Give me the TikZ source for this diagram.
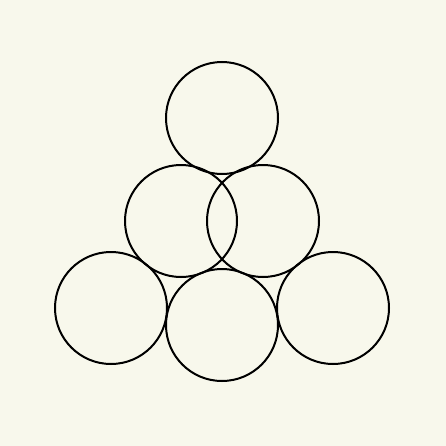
\documentclass[tikz,border=0pt]{standalone}
\usepackage{xcolor}
\usepackage{tikz}
\definecolor{paper}{HTML}{F8F8EC}

\begin{document}
\begin{tikzpicture}[x=0.75pt, y=-0.75pt]
                    \fill[paper] (0,0) rectangle (446,446);
                    \tikzset{ring/.style={draw=black, line width=1.5pt}}
                    \draw[ring] (222,118) circle (42pt);
                    \draw[ring] (181,221) circle (42pt);
                    \draw[ring] (263,221) circle (42pt);
                    \draw[ring] (111,308) circle (42pt);
                    \draw[ring] (222,325) circle (42pt);
                    \draw[ring] (333,308) circle (42pt);
                \end{tikzpicture}
\end{document}
